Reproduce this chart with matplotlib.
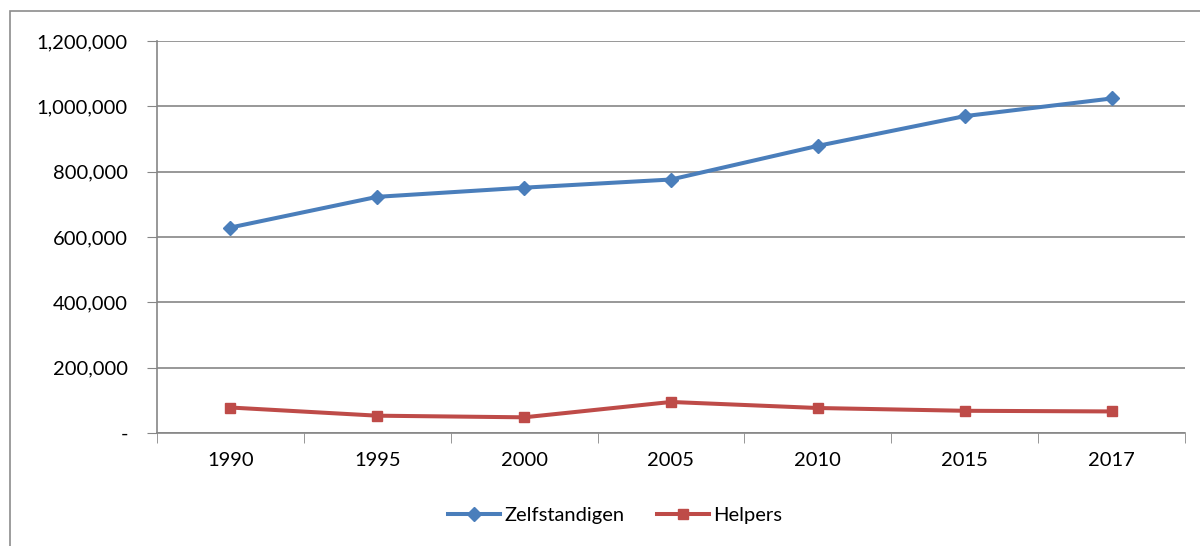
import numpy as np
import matplotlib.pyplot as plt
from matplotlib.ticker import FuncFormatter
from matplotlib.patches import Rectangle

jaren = ['1990', '1995', '2000', '2005', '2010', '2015', '2017']
zelfstandigen = [629000, 723000, 751000, 776000, 879000, 970000, 1024000]
helpers = [78000, 53000, 48000, 95000, 76500, 68000, 66000]

plt.rcParams['font.family'] = ['Lato', 'DejaVu Sans']

fig = plt.figure(figsize=(12, 5.46), dpi=100)
ax = fig.add_axes([157/1200, 1 - 433/546, (1185 - 157)/1200, (433 - 41)/546])

# buitenrand van de grafiek
fig.patches.append(Rectangle((10/1200, -0.1), 1.2, 1 - 11/546 + 0.1,
                             transform=fig.transFigure, fill=False,
                             edgecolor='#8c8c8c', linewidth=1.2))

x = np.arange(len(jaren))
ax.plot(x, zelfstandigen, color='#4a7ebb', linewidth=2.9, marker='D',
        markersize=7, label='Zelfstandigen')
ax.plot(x, helpers, color='#be4b48', linewidth=2.9, marker='s',
        markersize=7, label='Helpers')

ax.set_xlim(-0.5, len(jaren) - 0.5)
ax.set_ylim(0, 1200000)
ax.set_yticks(np.arange(0, 1200001, 200000))
ax.yaxis.set_major_formatter(FuncFormatter(lambda v, p: '-' if v == 0 else f'{int(v):,}'))
ax.set_xticks(x)
ax.set_xticklabels(jaren)
ax.set_xticks(np.arange(-0.5, len(jaren)), minor=True)
ax.tick_params(axis='x', which='major', length=0, pad=14, labelsize=14.5)
ax.tick_params(axis='x', which='minor', length=7, color='#868686', direction='out')
ax.tick_params(axis='y', length=7, color='#868686', pad=14, labelsize=14.5)

ax.grid(axis='y', color='#868686', linewidth=1.2)
ax.set_axisbelow(True)
for s in ['top', 'right']:
    ax.spines[s].set_visible(False)
for s in ['left', 'bottom']:
    ax.spines[s].set_color('#868686')
    ax.spines[s].set_linewidth(1.2)

fig.legend(*ax.get_legend_handles_labels(), loc='center', bbox_to_anchor=(615/1200, 1 - 515/546),
           ncol=2, frameon=False, fontsize=14.5, handlelength=2.6, handletextpad=0.2,
           columnspacing=1.6)

fig.savefig('out.png', dpi=100)
